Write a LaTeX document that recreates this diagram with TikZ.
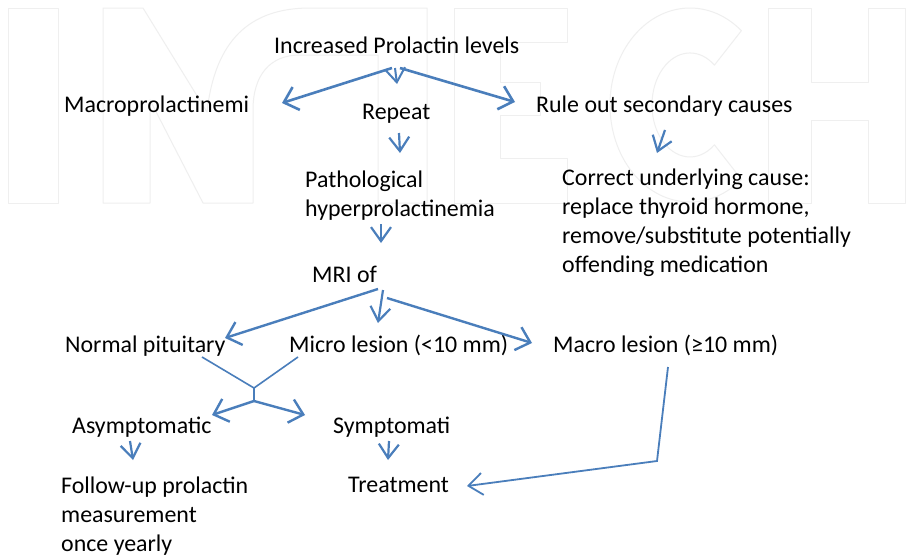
\documentclass[tikz,border=0pt]{standalone}
\usepackage{fontspec}
\setmainfont{Carlito}
\usetikzlibrary{arrows.meta}
\definecolor{lnk}{HTML}{4A7EBB}
\definecolor{wm}{HTML}{EFEFEF}
\begin{document}
\begin{tikzpicture}[x=1pt,y=-1pt,
  txt/.style={anchor=base west, inner sep=0pt, font=\fontsize{23.9}{29}\selectfont, align=left},
  wmark/.style={draw=wm, line width=1pt, line join=round},
  thick arr/.style={draw=lnk, line width=2.6pt, -{Straight Barb[length=13pt,width=24pt]}},
  mid arr/.style={draw=lnk, line width=2.2pt, -{Straight Barb[length=14pt,width=20pt]}},
  thin line/.style={draw=lnk, line width=1.6pt},
  stub line/.style={draw=lnk, line width=2.4pt}]
\useasboundingbox (0,0) rectangle (912,557);
\fill[white] (0,0) rectangle (912,557);
% watermark
\begin{scope}
\clip (0,0) rectangle (912,557);
\draw[wmark] (8,8) rectangle (58,203);
\draw[wmark] (103,203) -- (103,8) -- (143,8) -- (207,112) .. controls (215,40) and (250,8) .. (310,8) -- (427,8) -- (427,203) -- (378,203) -- (378,55) -- (300,55) .. controls (270,55) and (253,75) .. (253,110) -- (253,203) -- (203,203) -- (150,100) -- (150,203) -- cycle;
\draw[wmark] (454,8) -- (567,8) -- (567,42) -- (500,42) -- (500,82) -- (540,82) -- (540,115) -- (500,115) -- (500,158) -- (567,158) -- (567,203) -- (454,203) -- cycle;
\draw[wmark] (741.4,30.7) arc[start angle=-50, end angle=-310, x radius=80, y radius=97] -- (714.4,144.8) arc[start angle=50, end angle=310, x radius=38, y radius=52] -- cycle;
\draw[wmark] (768,8) -- (811,8) -- (811,82) -- (868,82) -- (868,8) -- (905,8) -- (905,203) -- (868,203) -- (868,120) -- (811,120) -- (811,203) -- (768,203) -- cycle;
\end{scope}
% text nodes (multi-line nodes: base = last line)
\node[txt] (inc) at (274,53) {Increased Prolactin levels};
\node[txt] (macro) at (64,112) {Macroprolactinemi};
\node[txt] (rep) at (362,119) {Repeat};
\node[txt] (rule) at (536,112) {Rule out secondary causes};
\node[txt] (path) at (305,216) {Pathological\\hyperprolactinemia};
\node[txt] (corr) at (562,272) {Correct underlying cause:\\replace thyroid hormone,\\remove/substitute potentially\\offending medication};
\node[txt] (mri) at (312,282) {MRI of};
\node[txt] (norm) at (65,352) {Normal pituitary};
\node[txt] (micro) at (289,352) {Micro lesion (<10 mm)};
\node[txt] (macl) at (553,352) {Macro lesion (≥10 mm)};
\node[txt] (asy) at (72,433) {Asymptomatic};
\node[txt] (sym) at (333,433) {Symptomati};
\node[txt] (fol) at (61,551) {Follow-up prolactin\\measurement\\once yearly};
\node[txt] (tre) at (348,492) {Treatment};
% connector points
\coordinate (hubL) at (392,68);
\coordinate (hubM) at (395,68);
\coordinate (hubR) at (400,68);
\coordinate (toMacro) at (282,103);
\coordinate (toRep) at (397,84);
\coordinate (toRule) at (515,102);
\coordinate (repS) at (399,133);
\coordinate (toPath) at (400,153);
\coordinate (ruleS) at (665,130);
\coordinate (toCorr) at (657,153);
\coordinate (pathS) at (381,224);
\coordinate (toMri) at (381,243);
\coordinate (mriL) at (378,289);
\coordinate (mriM) at (383,290);
\coordinate (mriR) at (387,298);
\coordinate (toNorm) at (225,338);
\coordinate (toMicro) at (378,323);
\coordinate (toMacl) at (532,343);
\coordinate (normS) at (202,357);
\coordinate (microS) at (298,357);
\coordinate (join) at (254,388);
\coordinate (fork) at (254,401);
\coordinate (toAsy) at (212,415);
\coordinate (toSym) at (305,415);
\coordinate (asyS) at (130,441);
\coordinate (toFol) at (133,460);
\coordinate (symS) at (389,441);
\coordinate (toTre) at (388,460);
\coordinate (maclS) at (668,367);
\coordinate (bend) at (657,461);
\coordinate (toTreR) at (467,486);
% connectors
\draw[thick arr] (hubL) -- (toMacro);
\draw[thick arr] (hubR) -- (toRule);
\draw[mid arr, line width=2pt] (hubM) -- (toRep);
\draw[mid arr] (repS) -- (toPath);
\draw[mid arr] (ruleS) -- (toCorr);
\draw[mid arr] (pathS) -- (toMri);
\draw[thick arr, line width=2.4pt] (mriL) -- (toNorm);
\draw[mid arr] (mriM) -- (toMicro);
\draw[thick arr, line width=2.4pt] (mriR) -- (toMacl);
\draw[thin line] (normS) -- (join) -- (microS);
\draw[stub line] (join) -- (fork);
\draw[thick arr, line width=2.4pt] (fork) -- (toAsy);
\draw[thick arr, line width=2.4pt] (fork) -- (toSym);
\draw[mid arr] (asyS) -- (toFol);
\draw[mid arr] (symS) -- (toTre);
\draw[thin line, line width=1.8pt, -{Straight Barb[length=14pt,width=22pt]}] (maclS) -- (bend) -- (toTreR);
\end{tikzpicture}
\end{document}
